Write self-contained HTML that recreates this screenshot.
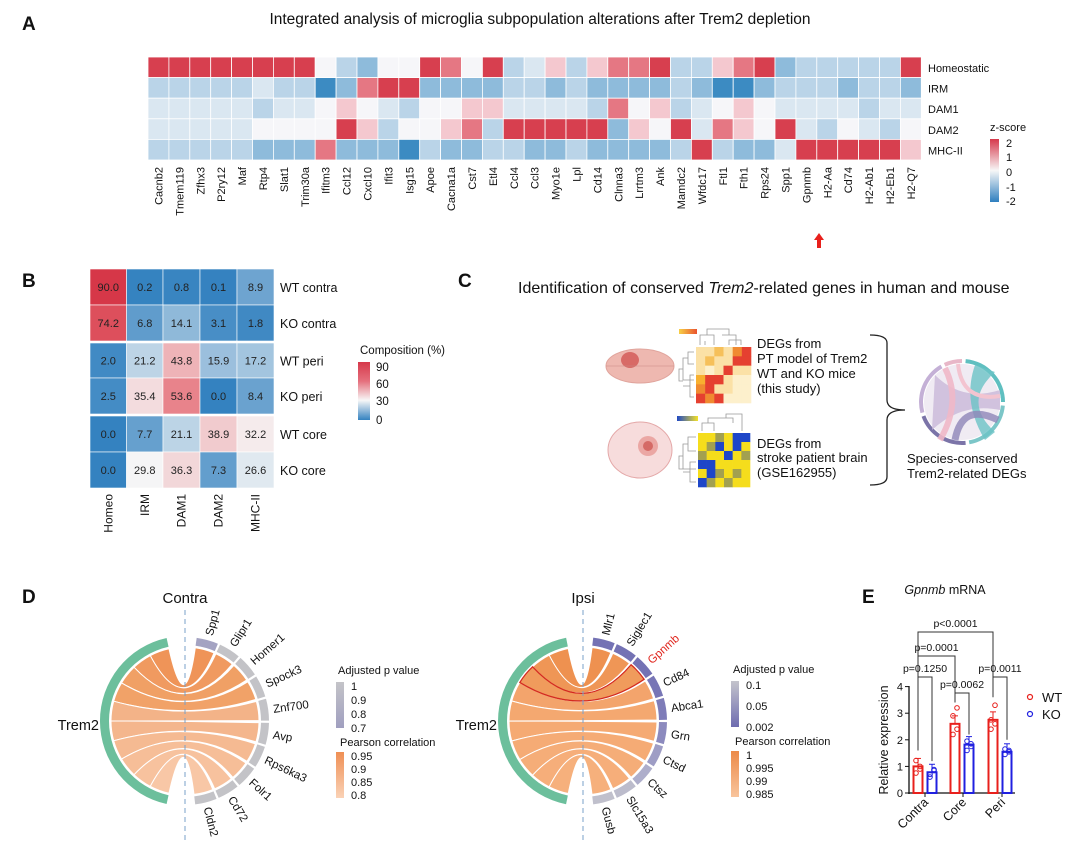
<!DOCTYPE html>
<html><head><meta charset="utf-8"><style>
body{margin:0;background:#fff;}
svg{display:block;font-family:"Liberation Sans",Arial,sans-serif;}
</style></head><body>
<svg id="s" width="1080" height="860" viewBox="0 0 1080 860" xmlns="http://www.w3.org/2000/svg">
<defs>
<linearGradient id="zg" x1="0" y1="0" x2="0" y2="1"><stop offset="0" stop-color="#d6394b"/><stop offset="0.5" stop-color="#f7f7f7"/><stop offset="1" stop-color="#2f7fbf"/></linearGradient>
<linearGradient id="cg" x1="0" y1="0" x2="0" y2="1"><stop offset="0" stop-color="#d6394b"/><stop offset="0.33" stop-color="#e5707d"/><stop offset="0.66" stop-color="#f7f7f7"/><stop offset="1" stop-color="#3482c0"/></linearGradient>
<linearGradient id="pg1" x1="0" y1="0" x2="0" y2="1"><stop offset="0" stop-color="#c4c4c8"/><stop offset="1" stop-color="#a09fc0"/></linearGradient>
<linearGradient id="og1" x1="0" y1="0" x2="0" y2="1"><stop offset="0" stop-color="#ef8f55"/><stop offset="1" stop-color="#fad2b6"/></linearGradient>
<linearGradient id="pg2" x1="0" y1="0" x2="0" y2="1"><stop offset="0" stop-color="#c4c4cc"/><stop offset="1" stop-color="#6e6cb0"/></linearGradient>
<linearGradient id="og2" x1="0" y1="0" x2="0" y2="1"><stop offset="0" stop-color="#ec8a48"/><stop offset="1" stop-color="#f8c49c"/></linearGradient>
<linearGradient id="yo" x1="0" y1="0" x2="1" y2="0"><stop offset="0" stop-color="#f7d046"/><stop offset="1" stop-color="#e9532e"/></linearGradient>
<linearGradient id="by" x1="0" y1="0" x2="1" y2="0"><stop offset="0" stop-color="#1f48c4"/><stop offset="1" stop-color="#f4e22a"/></linearGradient>
</defs>
<g id="g"></g>
</svg>
<script>
const NS="http://www.w3.org/2000/svg";const G=document.getElementById('g');
function el(t,a,txt){const e=document.createElementNS(NS,t);for(const k in a)e.setAttribute(k,a[k]);if(txt!==undefined)e.textContent=txt;G.appendChild(e);return e;}
function tx(x,y,s,fs,extra){const a=Object.assign({x:x,y:y,'font-size':fs,fill:'#111'},extra||{});return el('text',a,s);}
[['A',22,30],['B',22,287],['C',458,287],['D',22,603],['E',862,603]].forEach(p=>tx(p[1],p[2],p[0],19,{'font-weight':'bold'}));
tx(540,24,'Integrated analysis of microglia subpopulation alterations after Trem2 depletion',15.5,{'text-anchor':'middle'});
const C={R:'#d73f4f',r:'#e57783',p:'#f4c8cf',w:'#f6f6f9',l:'#dae7f1',b:'#bad4e8',B:'#8ebbdb',D:'#3c8bc2'};
const rows=["RRRRRRRR"+"wbBwwRrwRblpbprrRbbprRBbbbbbR",
"bbbbblbb"+"DBrRRBBBBbbBbBBBBbBDDBbbbBbbB",
"lllllbll"+"wpwlbwwppllllbrwpblwpwllllbllB",
"lllllwww"+"wRpbwwprbRRRRRBpwRlrpwRlbwlbw",
"bbbbbBBB"+"rBBBDbBBbbBBbBBBBbRbBBlRRRRRp"];
const genes=["Cacnb2","Tmem119","Zfhx3","P2ry12","Maf","Rtp4","Slat1","Trim30a","Ifitm3","Ccl12","Cxcl10","Ifit3","Isg15","Apoe","Cacna1a","Cst7","Etl4","Ccl4","Ccl3","Myo1e","Lpl","Cd14","Clnna3","Lrrtm3","Ank","Mamdc2","Wfdc17","Ftl1","Fth1","Rps24","Spp1","Gpnmb","H2-Aa","Cd74","H2-Ab1","H2-Eb1","H2-Q7"];
const x0=148,cw=20.9,y0=57,rh=20.6;
rows.forEach((r,i)=>{for(let j=0;j<37;j++){const c=r[j]||'w';el('rect',{x:x0+j*cw,y:y0+i*rh,width:cw,height:rh,fill:C[c],stroke:'#fff','stroke-width':0.8});}});
genes.forEach((g,j)=>{const x=x0+j*cw+cw/2+4;tx(x,167,g,11,{transform:`rotate(-90 ${x} 167)`,'text-anchor':'end'});});
["Homeostatic","IRM","DAM1","DAM2","MHC-II"].forEach((n,i)=>tx(928,y0+i*rh+15,n,11));
el('path',{d:'M819,240 l-5,0 l5,-7 l5,7 l-5,0 z M817,240 h4 v8 h-4 z',fill:'#e8201c'});
tx(990,131,'z-score',11);
el('rect',{x:990,y:139,width:9,height:63,fill:'url(#zg)'});
[['2',143],['1',157],['0',172],['-1',187],['-2',201]].forEach(t=>{tx(1006,t[1]+4,t[0],11);});
const bv=[[90.0,0.2,0.8,0.1,8.9],[74.2,6.8,14.1,3.1,1.8],[2.0,21.2,43.8,15.9,17.2],[2.5,35.4,53.6,0.0,8.4],[0.0,7.7,21.1,38.9,32.2],[0.0,29.8,36.3,7.3,26.6]];
function lerp(a,b,t){return a.map((v,i)=>Math.round(v+(b[i]-v)*t));}
function bc(v){if(v<30)return lerp([52,130,192],[246,246,246],v/30);if(v<60)return lerp([246,246,246],[228,100,110],(v-30)/30);return lerp([228,100,110],[214,55,72],(v-60)/30);}
const bx=[90,126.5,163,200,237,274],by=[[269,305],[305,341],[343,378],[378,414],[416,452],[452,488]];
bv.forEach((r,i)=>r.forEach((v,j)=>{const c=bc(v);el('rect',{x:bx[j],y:by[i][0],width:bx[j+1]-bx[j],height:by[i][1]-by[i][0],fill:`rgb(${c})`,stroke:'#fff','stroke-width':0.6});tx((bx[j]+bx[j+1])/2,(by[i][0]+by[i][1])/2+4,v.toFixed(1),11,{'text-anchor':'middle',fill:'#222'});}));
el('rect',{x:90,y:341,width:184,height:2,fill:'#fff'});el('rect',{x:90,y:414,width:184,height:2,fill:'#fff'});
["WT contra","KO contra","WT peri","KO peri","WT core","KO core"].forEach((n,i)=>tx(280,(by[i][0]+by[i][1])/2+5,n,12.5));
["Homeo","IRM","DAM1","DAM2","MHC-II"].forEach((n,j)=>{const x=(bx[j]+bx[j+1])/2+4;tx(x,494,n,12,{transform:`rotate(-90 ${x} 494)`,'text-anchor':'end'});});
tx(360,354,'Composition (%)',11.5);
el('rect',{x:358,y:362,width:12,height:58,fill:'url(#cg)'});
[['90',367],['60',384],['30',401],['0',420]].forEach(t=>tx(376,t[1]+4,t[0],11.5));
const ct=tx(518,293,'',16);ct.innerHTML='Identification of conserved <tspan font-style="italic">Trem2</tspan>-related genes in human and mouse';
el('ellipse',{cx:640,cy:366,rx:34,ry:17,fill:'#eeb8b0',stroke:'#e0a49c'});
el('ellipse',{cx:630,cy:360,rx:9,ry:8,fill:'#d86a66'});
el('line',{x1:606,y1:366,x2:674,y2:366,stroke:'#c98a84','stroke-width':0.6});
el('ellipse',{cx:640,cy:450,rx:32,ry:28,fill:'#f7dcdc',stroke:'#e4a8a8'});
el('circle',{cx:648,cy:446,r:10,fill:'#e79a96',opacity:0.8});
el('circle',{cx:648,cy:446,r:5,fill:'#d56a66'});
el('rect',{x:679,y:329,width:18,height:5,fill:'url(#yo)'});
el('rect',{x:677,y:416,width:21,height:5,fill:'url(#by)'});
const h1=["ppPpOR","pPppRR","pwpRpp","yRRpww","ORppww","RORwww"],h2=["YYGYBB","YGBYBY","GYYBYG","BBYYYY","YBGYGY","BGYGYY"];
const HC={p:'#fbe1a6',P:'#f6c05a',R:'#e54030',O:'#f08a30',y:'#f8b030',w:'#fdf0cc',Y:'#f5dd1c',G:'#a2a050',B:'#1e46c8'};
function hm(x,y,w,h,d){const s=w/6,t=h/6;d.forEach((r,i)=>{for(let j=0;j<6;j++)el('rect',{x:x+j*s,y:y+i*t,width:s+0.3,height:t+0.3,fill:HC[r[j]]});});}
hm(696,347,55,56,h1);hm(698,433,52,54,h2);
const dstyle={fill:'none',stroke:'#999','stroke-width':0.8};
el('path',Object.assign({d:'M694,352 h-6 v12 h6 M688,358 h-5 v22 h11 M694,375 h-4 v22 h4 M690,386 h-7 M683,369 h-4 v12 h4 M700,345 v-10 h14 v10 M707,335 v-6 h22 v6 M722,335 h14 v10 M705,345 v-4 M729,345 v-5 h12 v5'},dstyle));
el('path',Object.assign({d:'M696,437 h-8 v14 h8 M688,444 h-5 v25 h13 M696,462 h-6 v20 h6 M690,472 h-7 M683,456 h-4 v13 h4 M702,431 v-8 h12 v8 M708,423 v-5 h25 v5 M726,418 v-4 h16 v17'},dstyle));
[['DEGs from',348],['PT model of Trem2',363],['WT and KO mice',378],[' (this study)',393]].forEach(t=>tx(757,t[1],t[0],13,{'xml:space':'preserve'}));
[['DEGs from',448],['stroke patient brain',462],['(GSE162955)',477]].forEach(t=>tx(757,t[1],t[0],13));
el('path',{d:'M870,335 q17,0 17,8 v57 q0,10 18,10 q-18,0 -18,10 v57 q0,8 -17,8',fill:'none',stroke:'#222','stroke-width':1.3});
const cc=[962,402];
function P(cx,cy,a,r){a=a*Math.PI/180;return [cx+r*Math.sin(a),cy-r*Math.cos(a)];}
function arc(cx,cy,a1,a2,r){const p=P(cx,cy,a2,r);return `A${r},${r} 0 ${(a2-a1)>180?1:0} 1 ${p[0].toFixed(1)},${p[1].toFixed(1)}`;}
function ring(cx,cy,a1,a2,ri,ro,fill){const p1=P(cx,cy,a1,ro),p3=P(cx,cy,a2,ri);el('path',{d:`M${p1} ${arc(cx,cy,a1,a2,ro)} L${p3} A${ri},${ri} 0 ${(a2-a1)>180?1:0} 0 ${P(cx,cy,a1,ri)} Z`,fill:fill});}
[[5,90,'#5fbfc0'],[95,170,'#7cc6c8'],[175,250,'#7b74a8'],[255,330,'#c4b0d6'],[335,360,'#e8b7c8']].forEach(s=>ring(cc[0],cc[1],s[0],s[1],39,43,s[2]));
el('circle',{cx:962,cy:402,r:38,fill:'#e9e3ee',opacity:0.7});
el('path',{d:'M935,375 Q962,402 1000,390 L1000,410 Q962,402 932,430 Z',fill:'#c9b8d8',opacity:0.8});
el('path',{d:'M975,365 Q962,402 985,440 L995,432 Q962,402 995,372 Z',fill:'#6cc3c5',opacity:0.8});
el('path',{d:'M945,368 Q962,402 940,440',fill:'none',stroke:'#f0b8c8','stroke-width':6,opacity:0.9});
el('path',{d:'M955,440 Q962,402 998,420',fill:'none',stroke:'#8f86b8','stroke-width':7,opacity:0.8});
el('path',{d:'M958,364 Q962,402 1000,396',fill:'none',stroke:'#f3c4d0','stroke-width':4});
tx(907,463,'Species-conserved',13);tx(907,478,'Trem2-related DEGs',13);
function chord(cx,cy,tA,tB,gA,gB,names,gcol,rcol,title,hi){
 tx(cx,603,title,15,{'text-anchor':'middle'});
 const n=names.length,gap=1.6,gw=(gB-gA-gap*(n-1))/n,tw=(tB-tA)/n,R=74;
 for(let i=0;i<n;i++){
  const ga=gA+i*(gw+gap),gb=ga+gw,s2=tB-i*tw,s1=s2-tw;
  const d=`M${P(cx,cy,ga,R)} ${arc(cx,cy,ga,gb,R)} Q${cx},${cy} ${P(cx,cy,s1,R)} ${arc(cx,cy,s1,s2,R)} Q${cx},${cy} ${P(cx,cy,ga,R)} Z`;
  el('path',{d:d,fill:rcol[i],stroke:'#fff','stroke-width':1});
  ring(cx,cy,ga,gb,76,84,gcol[i]);
  const lp=P(cx,cy,ga+gw/2,89),rot=ga+gw/2-90;
  tx(lp[0],lp[1]+4,names[i],11.5,{transform:`rotate(${rot} ${lp[0]} ${lp[1]})`,fill:(i===hi?'#e0261e':'#111')});
 }
 if(hi>=0){const ga=gA+hi*(gw+gap),gb=ga+gw,s2=tB-hi*tw,s1=s2-tw;
  el('path',{d:`M${P(cx,cy,ga,R)} ${arc(cx,cy,ga,gb,R)} Q${cx},${cy} ${P(cx,cy,s1,R)} ${arc(cx,cy,s1,s2,R)} Q${cx},${cy} ${P(cx,cy,ga,R)} Z`,fill:'none',stroke:'#d42a1e','stroke-width':1.3});}
 ring(cx,cy,tA,tB,76,85,'#6cbf9c');
 el('line',{x1:cx,y1:610,x2:cx,y2:840,stroke:'#7aa0c8','stroke-width':1,'stroke-dasharray':'5,4'});
 tx(cx-80-6,cy+9,'Trem2',14.5,{'text-anchor':'end'});
}
const o1=['#ef9458','#f09a60','#f0a065','#f1a268','#f3b388','#f4b68d','#f5ba92','#f6be98','#f7c29e','#f8c7a6','#fad0b4'];
chord(185,721,192.5,347.5,8,173,["Spp1","Glipr1","Homer1","Spock3","Znf700","Avp","Rps6ka3","Folr1","Cd72","Cldn2"],
 ['#a4a3c2','#c3c3c7','#c3c3c7','#c3c3c7','#c3c3c7','#c3c3c7','#c3c3c7','#c3c3c7','#c3c3c7','#c3c3c7'],o1,'Contra',-1);
chord(583,721,191.5,348.5,7,173,["Mlr1","Siglec1","Gpnmb","Cd84","Abca1","Grn","Ctsd","Ctsz","Slc15a3","Gusb"],
 ['#7472b4','#7472b4','#7472b4','#7876b6','#7e7cb8','#8c8abe','#9e9dc5','#aeaecb','#bcbccc','#c0c0cc'],
 ['#ee9150','#ef9656','#f09b5c','#f3a46c','#f4a870','#f5aa73','#f5ab75','#f5ad78','#f6ae7a','#f6b07c'],'Ipsi',2);
function leg(x,y1,t1,grad1,labs1,y2,t2,grad2,labs2){
 tx(x+2,y1,t1,11);el('rect',{x:x,y:y1+8,width:8,height:46,fill:grad1});
 labs1.forEach((l,i)=>tx(x+15,y1+16+i*(42/(labs1.length-1)),l,11));
 tx(x+4,y2,t2,11);el('rect',{x:x,y:y2+6,width:8,height:46,fill:grad2});
 labs2.forEach((l,i)=>tx(x+15,y2+14+i*(39/(labs2.length-1)),l,11));
}
leg(336,674,'Adjusted p value','url(#pg1)',['1','0.9','0.8','0.7'],746,'Pearson correlation','url(#og1)',['0.95','0.9','0.85','0.8']);
leg(731,673,'Adjusted p value','url(#pg2)',['0.1','0.05','0.002'],745,'Pearson correlation','url(#og2)',['1','0.995','0.99','0.985']);
const tt=tx(945,594,'',12.5,{'text-anchor':'middle'});tt.innerHTML='<tspan font-style="italic">Gpnmb</tspan> mRNA';
const yv=v=>793-26.6*v;const AX=909;
el('line',{x1:AX,y1:686,x2:AX,y2:794,stroke:'#111','stroke-width':1.3});
el('line',{x1:AX-1,y1:793,x2:1015,y2:793,stroke:'#111','stroke-width':1.3});
for(let v=0;v<=4;v++){el('line',{x1:AX-4,y1:yv(v),x2:AX,y2:yv(v),stroke:'#111'});tx(AX-6,yv(v)+4,String(v),11,{'text-anchor':'end'});}
[925,963,1002].forEach(x=>el('line',{x1:x,y1:793,x2:x,y2:797,stroke:'#111'}));
const bars=[[918,1.0,'#e8201c',[0.75,1.0,1.22,0.9]],[932,0.78,'#2020e0',[0.6,0.88,0.7,0.85]],[955,2.6,'#e8201c',[2.2,2.4,2.9,3.2]],[969,1.82,'#2020e0',[1.6,1.75,1.95,1.85]],[993,2.75,'#e8201c',[2.4,2.6,2.75,3.3]],[1007,1.55,'#2020e0',[1.45,1.55,1.65,1.6]]];
bars.forEach(b=>{el('rect',{x:b[0]-4.5,y:yv(b[1]),width:9,height:793-yv(b[1]),fill:'#fff',stroke:b[2],'stroke-width':2});
 el('line',{x1:b[0],y1:yv(b[1]),x2:b[0],y2:yv(b[1]+0.3),stroke:b[2]});el('line',{x1:b[0]-3,y1:yv(b[1]+0.3),x2:b[0]+3,y2:yv(b[1]+0.3),stroke:b[2]});
 b[3].forEach((v,i)=>el('circle',{cx:b[0]+(i%2?2:-2),cy:yv(v),r:2.3,fill:'none',stroke:b[2],'stroke-width':1}));});
function br(x1,x2,y,yl,yr,lab){el('path',{d:`M${x1},${yl} V${y} H${x2} V${yr}`,fill:'none',stroke:'#333','stroke-width':1});tx((x1+x2)/2,y-5,lab,10.5,{'text-anchor':'middle'});}
br(918,932,677,yv(1.6),yv(1.2),'p=0.1250');
br(918,955,656,yv(1.6),yv(3.6),'p=0.0001');
br(918,993,632,yv(1.6),yv(4.1),'p<0.0001');
br(955,969,693,yv(3.4),yv(2.2),'p=0.0062');
br(993,1007,677,yv(3.6),yv(2.0),'p=0.0011');
el('circle',{cx:1030,cy:697,r:2.5,fill:'none',stroke:'#e8201c','stroke-width':1.2});tx(1042,702,'WT',13);
el('circle',{cx:1030,cy:714,r:2.5,fill:'none',stroke:'#2020e0','stroke-width':1.2});tx(1042,719,'KO',13);
tx(888,740,'Relative expression',12.5,{transform:'rotate(-90 888 740)','text-anchor':'middle'});
[['Contra',929],['Core',967],['Peri',1006]].forEach(t=>tx(t[1],803,t[0],12.5,{transform:`rotate(-45 ${t[1]} 803)`,'text-anchor':'end'}));
</script>
</body></html>
